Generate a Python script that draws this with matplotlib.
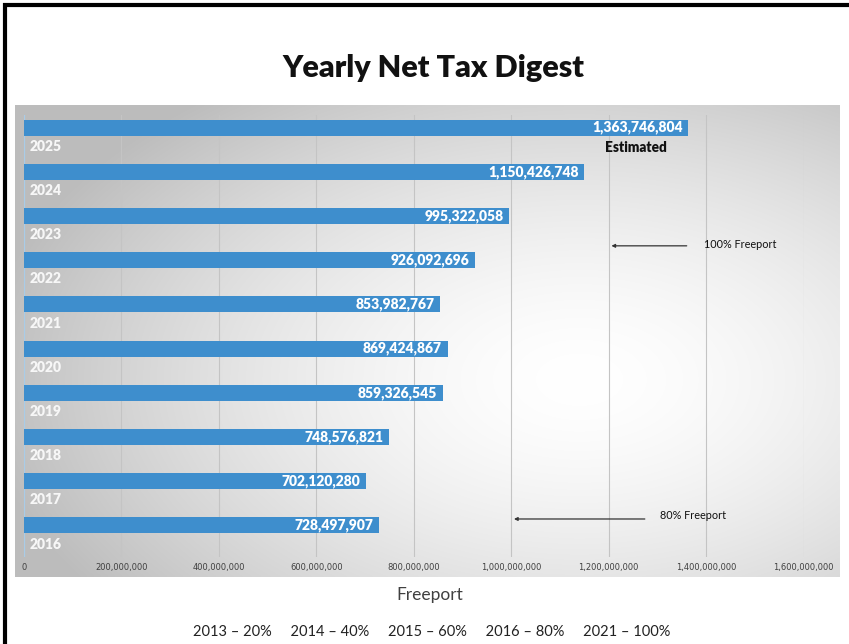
import numpy as np
import matplotlib
matplotlib.use("Agg")
import matplotlib.pyplot as plt
from matplotlib.lines import Line2D

# ---- data -------------------------------------------------------------
years = ["2016", "2017", "2018", "2019", "2020", "2021", "2022", "2023", "2024", "2025"]
net_digest = [728497907, 702120280, 748576821, 859326545, 869424867,
              853982767, 926092696, 995322058, 1150426748, 1363746804]
x_ticks = [0, 200e6, 400e6, 600e6, 800e6, 1000e6, 1200e6, 1400e6, 1600e6]
x_tick_labels = ["0", "200,000,000", "400,000,000", "600,000,000", "800,000,000",
                 "1,000,000,000", "1,200,000,000", "1,400,000,000", "1,600,000,000"]
phase_in = ["2013 \u2013 20%", "2014 \u2013 40%", "2015 \u2013 60%",
            "2016 \u2013 80%", "2021 \u2013 100%"]

W, H = 849, 644
BAR_COLOR = "#3E8ECD"
FONT = "Lato"

fig = plt.figure(figsize=(W / 100, H / 100), dpi=100)
fig.patch.set_facecolor("white")


def fx(px):
    return px / W


def fy(py):
    return 1 - py / H


# ---- gradient panel behind the chart ---------------------------------
bg = fig.add_axes([fx(15), fy(577), fx(825), (577 - 105) / H])
bg.set_axis_off()
gx, gy = np.meshgrid(np.linspace(15, 840, 400), np.linspace(105, 577, 240))
d = np.sqrt(((gx - 580) / 600) ** 2 + ((gy - 380) / 360) ** 2)
t = np.clip(d, 0, 1) ** 1.6
lo, hi = 1.0, 0.74
shade = hi * t + lo * (1 - t)
img = np.dstack([shade, shade, shade])
bg.imshow(img, aspect="auto", extent=(0, 1, 0, 1), interpolation="bilinear")
bg.set_xlim(0, 1)
bg.set_ylim(0, 1)

# ---- main bar axes -----------------------------------------------------
ax = fig.add_axes([fx(24), fy(557), 779.5 / W, (557 - 115) / H])
ax.patch.set_alpha(0)
pos = np.arange(len(years))
bar_y = pos + 0.215
ax.barh(bar_y, net_digest, height=0.36, color=BAR_COLOR, zorder=3)

ax.set_xlim(0, 1.6e9)
ax.set_ylim(-0.5, len(years) - 0.5)
ax.set_xticks(x_ticks)
ax.set_xticklabels(x_tick_labels, fontsize=6, color="#404040")
ax.tick_params(axis="x", length=0, pad=4.5)
ax.set_yticks([])
for s in ax.spines.values():
    s.set_visible(False)
ax.grid(axis="x", color="#c4c4c4", lw=0.8, zorder=0)
ax.axvline(0, color="#a9cce8", lw=0.9, zorder=2)

for yb, v, yr, p in zip(bar_y, net_digest, years, pos):
    ax.annotate(f"{v:,}", (v, yb), xytext=(-4, 0), textcoords="offset points",
                ha="right", va="center", color="white", fontsize=10,
                fontweight="heavy", family=FONT, zorder=4)
    ax.annotate(yr, (0, p - 0.21), xytext=(4, 0), textcoords="offset points",
                ha="left", va="center", color="#f7f7f7", fontsize=10,
                fontweight="heavy", family=FONT, zorder=4)

ax.text(1.257e9, 8.76, "Estimated", ha="center", va="center", fontsize=9.8,
        fontweight="heavy", color="#111111", family=FONT, zorder=4)

# freeport phase-in markers
ax.annotate("", xy=(1.2e9, 6.54), xytext=(1.366e9, 6.54),
            arrowprops=dict(arrowstyle="-|>", color="#333333", lw=0.9,
                            mutation_scale=5))
ax.text(1.395e9, 6.56, "100% Freeport", ha="left", va="center", fontsize=7.8,
        color="#111111", family=FONT)
ax.annotate("", xy=(1.0e9, 0.36), xytext=(1.28e9, 0.36),
            arrowprops=dict(arrowstyle="-|>", color="#333333", lw=0.9,
                            mutation_scale=5))
ax.text(1.305e9, 0.44, "80% Freeport", ha="left", va="center", fontsize=7.8,
        color="#111111", family=FONT)

# ---- titles and footer -------------------------------------------------
fig.text(fx(433), fy(68), "Yearly Net Tax Digest", ha="center", va="center",
         fontsize=22, fontweight="heavy", color="#111111", family=FONT)
fig.text(fx(430), fy(595), "Freeport", ha="center", va="center",
         fontsize=12.5, color="#404040", family=FONT)
fig.text(fx(432), fy(632), "     ".join(phase_in), ha="center", va="center",
         fontsize=10.5, color="#222222", family=FONT)

# frame around the slide: left and top edges only
fig.add_artist(Line2D([fx(5), fx(5)], [fy(3), -0.01], color="black", lw=3,
                      solid_capstyle="butt"))
fig.add_artist(Line2D([fx(3), 1.01], [fy(5), fy(5)], color="black", lw=3,
                      solid_capstyle="butt"))

fig.savefig("out.png", dpi=100)
